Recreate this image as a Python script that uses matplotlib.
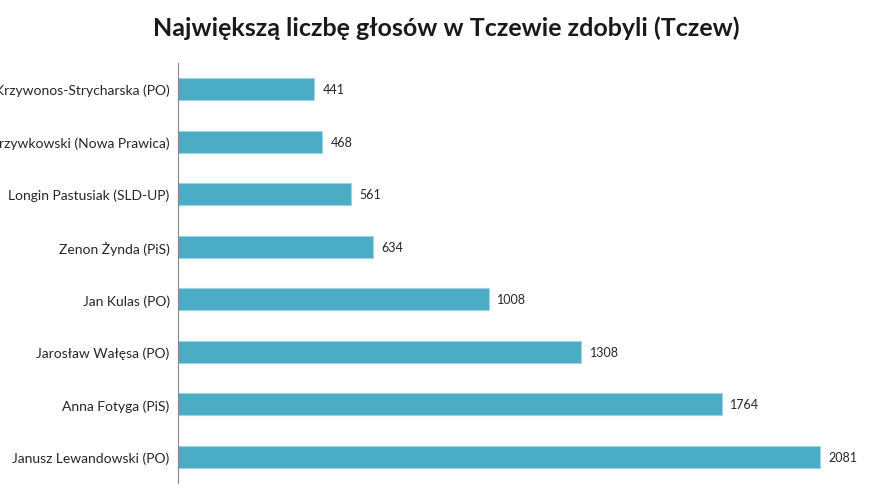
import matplotlib
matplotlib.use("Agg")
import matplotlib.pyplot as plt

categories = [
    "Krzywonos-Strycharska (PO)",
    "rzywkowski (Nowa Prawica)",
    "Longin Pastusiak (SLD-UP)",
    "Zenon Żynda (PiS)",
    "Jan Kulas (PO)",
    "Jarosław Wałęsa (PO)",
    "Anna Fotyga (PiS)",
    "Janusz Lewandowski (PO)",
]
votes = [441, 468, 561, 634, 1008, 1308, 1764, 2081]
title = "Największą liczbę głosów w Tczewie zdobyli (Tczew)"

plt.rcParams['font.family'] = ['Lato', 'DejaVu Sans']

fig = plt.figure(figsize=(8.93, 5.02), dpi=100)
ax = fig.add_axes([0.1993, 0.0353, 0.777, 0.8377])

ypos = list(range(len(categories)))
ax.barh(ypos, votes, height=0.42, color="#4BACC6", edgecolor="#9fd3e2", linewidth=0.8)
ax.set_ylim(len(categories) - 0.5, -0.5)
ax.set_xlim(0, 2250)
ax.set_yticks(ypos)
ax.set_yticklabels(categories, fontsize=10, color="#262626")
ax.tick_params(axis='y', length=0, pad=6)
ax.set_xticks([])
for s in ["top", "right", "bottom"]:
    ax.spines[s].set_visible(False)
ax.spines["left"].set_color("#868686")
ax.spines["left"].set_linewidth(0.8)

for y, v in zip(ypos, votes):
    ax.annotate(str(v), (v, y), xytext=(6, 0), textcoords="offset points",
                va="center", ha="left", fontsize=9, color="#262626")

fig.text(0.5, 0.943, title, ha="center", va="center", fontsize=18,
         fontweight="bold", color="#1a1a1a")

fig.savefig("out.png", dpi=100)
